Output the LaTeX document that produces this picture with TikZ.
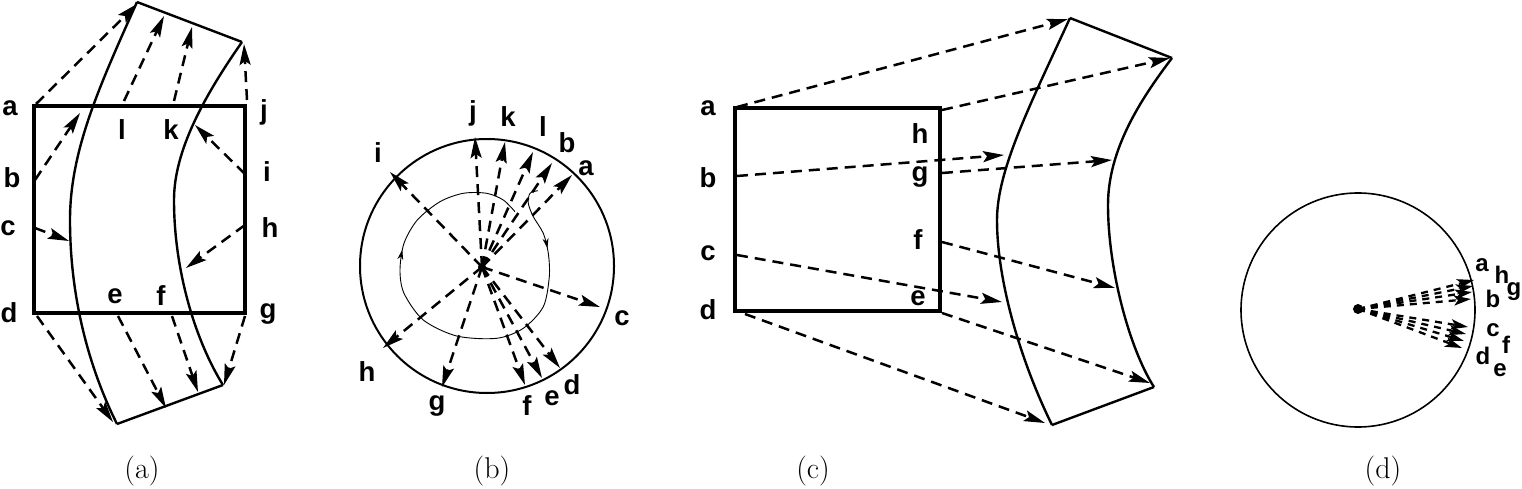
\documentclass[tikz,border=0pt]{standalone}
\usepackage{fontspec}
\newfontfamily\lab{Liberation Sans}
\usetikzlibrary{arrows.meta,decorations.markings}
\begin{document}
\begin{tikzpicture}[x=1pt,y=-1pt,
  lbl/.style={font=\lab\bfseries\fontsize{27.5}{29}\selectfont, inner sep=0pt},
  slbl/.style={font=\lab\bfseries\fontsize{24}{26}\selectfont, inner sep=0pt},
  captxt/.style={font=\fontsize{30}{34}\selectfont, inner sep=0pt},
  darr/.style={line width=2.5pt, dash pattern=on 11pt off 7pt, -{Stealth[length=21pt,width=11pt,inset=4pt]}},
  sarr/.style={line width=2.3pt, dash pattern=on 7pt off 6pt, -{Stealth[length=17pt,width=10pt,inset=4pt]}},
  rectline/.style={line width=4pt},
  curve/.style={line width=2.4pt, line join=round},
  circ/.style={line width=2pt},
  thinline/.style={line width=0.9pt}
]
\useasboundingbox (0,0) rectangle (1522,489);

% ================= (a) =================
\coordinate (A1) at (34,106);
\coordinate (A2) at (245,313);
\draw[rectline] (A1) rectangle (A2);
\coordinate (TL) at (137,2);
\coordinate (TR) at (242,42);
\coordinate (BL) at (117,424);
\coordinate (BR) at (223,385);
\draw[curve] (TL) -- (TR);
\draw[curve] (BL) -- (BR);
\draw[curve] (TL) .. controls (100,85) and (70,150) .. (70,220) .. controls (70,300) and (90,370) .. (BL);
\draw[curve] (TR) .. controls (205,95) and (174,150) .. (174,200) .. controls (174,270) and (195,340) .. (BR);

\foreach \n/\s/\e in {a/{36,104}/{137,4}, b/{35,180}/{80,113}, c/{35,228}/{69,241},
  d/{37,316}/{113,422}, e/{118,316}/{166,408}, f/{172,316}/{198,392},
  g/{245,316}/{224,385}, h/{245,225}/{186,268}, i/{245,174}/{195,125},
  j/{247,100}/{244,44}, k/{174,101}/{192,27}, l/{124,101}/{164,16}}{
  \coordinate (as\n) at (\s);
  \coordinate (ae\n) at (\e);
  \draw[darr] (as\n) -- (ae\n);
}

\node[lbl] (la) at (10,108) {a};
\node[lbl] (lb) at (12,178) {b};
\node[lbl] (lc) at (8,228) {c};
\node[lbl] (ld) at (9,313) {d};
\node[lbl] (lj) at (264,112) {j};
\node[lbl] (li) at (267,172) {i};
\node[lbl] (lh) at (270,228) {h};
\node[lbl] (lg) at (268,314) {g};
\node[lbl] (ll) at (122,130) {l};
\node[lbl] (lk) at (171,130) {k};
\node[lbl] (le) at (115,296) {e};
\node[lbl] (lf) at (161,296) {f};
\node[captxt] (capa) at (142,471) {(a)};

% ================= (b) =================
\coordinate (Bc) at (487,266);
\draw[circ] (Bc) circle[radius=127];
\coordinate (Bo) at (482,267);
\fill (Bo) circle[radius=4];
\foreach \n/\e in {j/{475,137}, k/{505,142}, l/{533,152}, b/{552,163}, a/{572,175},
  c/{600,307}, d/{560,368}, e/{542,378}, f/{525,385}, g/{442,387}, h/{383,348}, i/{390,172}}{
  \coordinate (be\n) at (\e);
  \draw[darr] (Bo) -- (be\n);
}
\draw[thinline, postaction={decorate}, decoration={markings,
   mark=at position 0.14 with {\arrow{Stealth[length=10pt,width=6pt]}},
   mark=at position 0.70 with {\arrow{Stealth[length=10pt,width=6pt]}}}]
  plot[smooth] coordinates {(538,190.7) (530,193.3) (528.3,203.3) (533.3,216.7) (543.3,233.3) (548.3,253.3) (549.3,276.7) (543.3,306.7) (523.3,328.3) (496.7,338.3) (456.7,336) (423.3,320) (404,293.3) (400,270) (404,243.3) (417.3,220) (440,201.7) (463.3,193.3) (486.7,193.3) (503.3,200) (515,211.7)};

\node[lbl] (bj) at (473,113) {j};
\node[lbl] (bk) at (508,117) {k};
\node[lbl] (bl) at (543,127) {l};
\node[lbl] (bb) at (567,143) {b};
\node[lbl] (ba) at (586,168) {a};
\node[lbl] (bc) at (622,318) {c};
\node[lbl] (bd) at (572,385) {d};
\node[lbl] (be) at (552,398) {e};
\node[lbl] (bf) at (527,406) {f};
\node[lbl] (bg) at (437,406) {g};
\node[lbl] (bh) at (367,372) {h};
\node[lbl] (bi) at (378,153) {i};
\node[captxt] (capb) at (492,471) {(b)};

% ================= (c) =================
\coordinate (C1) at (735,108);
\coordinate (C2) at (940,311);
\draw[rectline] (C1) rectangle (C2);
\coordinate (CTL) at (1070,18);
\coordinate (CTR) at (1172,58);
\coordinate (CBL) at (1052,425);
\coordinate (CBR) at (1154,387);
\draw[curve] (CTL) -- (CTR);
\draw[curve] (CBL) -- (CBR);
\draw[curve] (CTL) .. controls (1030,105) and (997,170) .. (997,220) .. controls (997,280) and (1020,360) .. (CBL);
\draw[curve] (CTR) .. controls (1140,100) and (1108,150) .. (1108,205) .. controls (1108,270) and (1130,350) .. (CBR);

\foreach \n/\s/\e in {a/{737,107}/{1068,19}, b/{737,176}/{1004,155}, c/{737,255}/{1002,302},
  d/{745,314}/{1045,423}, h/{942,110}/{1170,58}, g/{942,173}/{1112,160},
  f/{942,242}/{1115,288}, e/{942,313}/{1150,383}}{
  \coordinate (cs\n) at (\s);
  \coordinate (ce\n) at (\e);
  \draw[darr] (cs\n) -- (ce\n);
}
\node[lbl] (ca) at (708,108) {a};
\node[lbl] (cb) at (708,178) {b};
\node[lbl] (cc) at (708,253) {c};
\node[lbl] (cd) at (708,310) {d};
\node[lbl] (ch) at (920,134) {h};
\node[lbl] (cg) at (920,177) {g};
\node[lbl] (cf) at (918,240) {f};
\node[lbl] (ce) at (918,298) {e};
\node[captxt] (capc) at (813,471) {(c)};

% ================= (d) =================
\coordinate (Dc) at (1358,310);
\draw[line width=1.6pt] (Dc) circle[radius=117];
\coordinate (Do) at (1358,309);
\fill (Do) circle[radius=5];
\foreach \n/\e in {a/{1474,280}, h/{1473,286}, g/{1472,292}, b/{1471,299},
  c/{1468,327}, f/{1466,334}, d/{1464,341}, e/{1462,348}}{
  \coordinate (de\n) at (\e);
  \draw[sarr] (Do) -- (de\n);
}
\node[slbl] (da) at (1482,265) {a};
\node[slbl] (dh) at (1502,275) {h};
\node[slbl] (dg) at (1514,292) {g};
\node[slbl] (db) at (1493,299) {b};
\node[slbl] (dc) at (1493,330) {c};
\node[slbl] (df) at (1506,345) {f};
\node[slbl] (dd) at (1483,356) {d};
\node[slbl] (dee) at (1500,370) {e};
\node[captxt] (capd) at (1383,471) {(d)};
\end{tikzpicture}
\end{document}
